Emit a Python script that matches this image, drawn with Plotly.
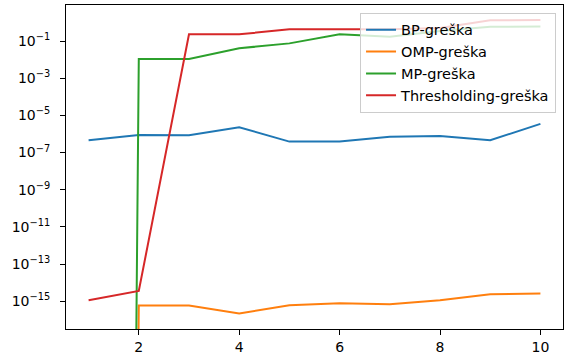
import plotly.graph_objects as go

# Reconstruction error per sparsity level, for four sparse-coding methods
k = [1, 2, 3, 4, 5, 6, 7, 8, 9, 10]
bp_err = [4.6e-7, 8.9e-7, 8.5e-7, 2.3e-6, 3.9e-7, 3.9e-7, 7.1e-7, 7.9e-7, 4.6e-7, 3.5e-6]
omp_err = [0.0, 5.9e-16, 5.9e-16, 2.2e-16, 6.2e-16, 7.9e-16, 7.0e-16, 1.15e-15, 2.4e-15, 2.6e-15]
mp_err = [0.0, 1.08e-2, 1.07e-2, 4.1e-2, 7.5e-2, 0.23, 0.17, 0.35, 0.59, 0.60]
thr_err = [1.15e-15, 3.6e-15, 0.23, 0.23, 0.43, 0.44, 0.43, 0.50, 1.3, 1.35]

names = ["BP-greška", "OMP-greška", "MP-greška", "Thresholding-greška"]
series = [bp_err, omp_err, mp_err, thr_err]
colors = ["#1f77b4", "#ff7f0e", "#2ca02c", "#d62728"]

# y tick positions (powers of ten) and their exponents
y_exponents = [-15, -13, -11, -9, -7, -5, -3, -1]
y_tickvals = [10.0 ** e for e in y_exponents]
y_ticktext = [
    "10<sup><span style='font-size:9.8px'>\u2212%d</span></sup>" % abs(e)
    for e in y_exponents
]

# Non-positive values cannot sit on a log axis; clip them to a tiny
# positive number so the segment drops straight off the bottom edge.
CLIP = 1e-300


def clip_nonpositive(vals):
    return [v if v > 0 else CLIP for v in vals]


fig = go.Figure()
for name, vals, color in zip(names, series, colors):
    fig.add_trace(go.Scatter(
        x=k, y=clip_nonpositive(vals), mode="lines", name=name,
        line=dict(color=color, width=2),
    ))

tick_font = dict(family="DejaVu Sans", size=14, color="#000000")
legend_font = dict(family="DejaVu Sans", size=14.5, color="#000000")

fig.update_layout(
    width=565, height=364,
    margin=dict(l=66, r=2, t=5, b=35),
    paper_bgcolor="white", plot_bgcolor="white",
    font=tick_font,
    showlegend=True,
    legend=dict(
        x=0.986, y=0.976, xanchor="right", yanchor="top",
        bgcolor="rgba(255,255,255,0.8)", bordercolor="#cccccc", borderwidth=1,
        font=legend_font,
    ),
)
fig.update_xaxes(
    range=[0.55, 10.45], tick0=0, dtick=2,
    showgrid=False, zeroline=False,
    showline=True, linecolor="#000000", linewidth=1, mirror=True,
    ticks="outside", ticklen=5, tickwidth=1, tickcolor="#000000",
    tickfont=tick_font,
)
fig.update_yaxes(
    type="log", range=[-16.49, 0.94],
    tickmode="array", tickvals=y_tickvals, ticktext=y_ticktext,
    showgrid=False, zeroline=False,
    showline=True, linecolor="#000000", linewidth=1, mirror=True,
    ticks="outside", ticklen=5, tickwidth=1, tickcolor="#000000",
    tickfont=tick_font, ticklabelstandoff=7,
)

fig.write_html("out.html")
